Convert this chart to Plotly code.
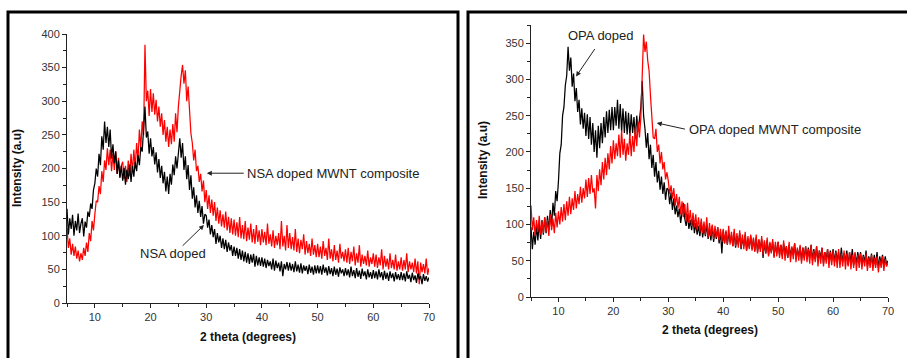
import plotly.graph_objects as go

# 2-theta grid (degrees), 0.25 step from 5 to 70
two_theta = [5 + 0.25 * i for i in range(261)]

# Left panel: NSA doped (black) and NSA doped MWNT composite (red)
nsa_doped = [
    140,102,126,110,131,100,122,108,133,104,118,126,99,121,112,136,128,148,140,168,
    178,200,188,222,205,248,228,270,238,262,232,258,215,236,208,225,192,212,186,204,
    182,201,176,198,184,206,180,204,188,210,196,220,205,232,225,262,292,246,255,222,
    245,218,232,206,224,194,214,186,204,178,195,166,188,162,192,176,206,190,218,200,
    222,245,216,238,198,218,184,205,168,190,155,172,142,160,134,152,128,144,118,132,
    130,112,124,102,116,98,110,88,104,90,100,82,96,80,94,76,90,78,86,70,
    84,70,82,66,80,64,78,62,76,60,74,58,72,60,73,54,70,56,68,55,
    68,54,66,52,64,55,62,50,66,48,63,52,60,47,62,40,58,50,61,48,
    60,48,58,46,62,47,57,45,59,44,56,48,55,43,57,45,54,42,56,44,
    56,44,55,42,57,45,53,41,55,43,52,40,54,42,51,39,53,44,50,40,
    52,41,50,38,54,40,49,37,52,39,48,36,51,40,47,35,50,38,46,36,
    49,37,47,35,50,38,46,34,48,36,45,33,47,37,44,32,46,35,43,34,
    46,34,44,32,47,36,42,31,45,34,41,30,44,35,40,28,43,33,40,32,38,
]
nsa_mwnt = [
    112,82,96,72,88,70,84,66,78,62,74,64,82,70,90,76,104,92,122,108,
    132,152,150,174,162,196,180,212,198,230,205,228,196,222,198,226,192,216,188,204,
    210,184,204,180,212,188,222,194,228,200,238,212,258,230,270,250,384,300,316,278,
    318,284,312,280,302,270,292,262,282,250,272,240,262,232,258,236,266,240,282,254,
    292,318,338,354,326,346,300,322,276,252,238,212,228,196,204,180,192,166,182,150,
    168,140,160,134,154,130,150,122,142,118,138,114,132,112,136,108,128,104,126,102,
    124,100,120,98,128,96,116,95,122,92,112,94,118,90,110,88,116,91,108,86,
    110,90,106,86,118,88,102,84,108,82,100,86,104,80,122,84,100,78,116,82,
    104,80,98,78,110,76,96,74,94,80,102,72,92,74,88,70,96,72,86,68,
    88,68,84,66,92,70,82,64,96,66,80,62,86,64,78,60,88,66,76,62,
    80,60,82,58,76,62,84,56,74,60,86,54,72,58,70,56,78,54,68,58,
    74,54,72,52,68,56,80,50,70,54,66,50,74,52,64,50,72,48,62,50,
    68,48,64,50,74,46,62,50,60,46,66,44,62,28,60,46,58,44,66,42,52,
]

# Right panel: OPA doped (black) and OPA doped MWNT composite (red)
opa_doped = [
    96,66,90,72,98,78,104,80,106,86,110,88,112,92,120,98,130,112,146,132,
    160,198,210,250,262,292,305,345,312,330,290,308,270,288,255,272,238,260,232,254,
    222,252,218,248,210,240,200,230,192,236,205,240,212,248,220,256,226,258,230,262,
    230,262,236,272,232,266,228,260,226,256,224,254,222,252,226,248,218,250,228,246,
    262,298,250,232,206,226,190,210,178,196,166,186,158,174,148,166,142,158,134,150,
    148,128,144,120,136,114,126,110,122,102,118,130,108,98,114,94,106,92,110,88,
    102,86,98,84,104,82,96,84,100,80,94,78,98,76,92,80,96,74,90,60,
    92,74,90,72,88,76,86,70,90,68,84,72,88,66,82,70,86,64,80,68,
    84,66,80,64,82,62,78,66,80,54,76,60,78,58,74,62,76,56,72,60,
    76,58,72,56,74,60,70,54,72,56,68,58,74,52,66,56,70,50,68,54,
    70,52,68,54,72,50,66,52,70,48,64,54,68,46,62,52,66,48,64,50,
    66,48,64,50,62,46,68,48,60,50,64,44,62,48,66,44,60,46,62,48,
    62,44,58,48,64,42,56,46,60,42,58,44,62,40,56,46,58,42,56,44,50,
]
opa_mwnt = [
    126,92,110,84,106,90,112,86,104,88,110,90,106,84,114,92,108,88,116,96,
    118,100,124,104,128,106,132,112,138,114,136,120,146,122,142,128,152,130,150,136,
    162,138,164,142,168,144,150,122,168,146,176,154,186,162,192,168,198,176,208,184,
    216,190,212,194,224,192,230,196,218,188,212,196,226,194,222,200,234,208,242,220,
    248,302,362,338,352,326,312,278,250,220,218,232,200,210,184,200,176,186,162,172,
    160,142,154,136,150,126,142,122,138,114,132,110,128,104,130,102,120,98,116,96,
    114,92,110,90,108,88,104,86,110,82,102,84,100,80,98,82,96,78,94,76,
    94,74,92,72,98,72,90,70,94,70,88,68,92,68,86,66,90,64,84,66,
    86,64,82,62,86,60,80,62,84,58,78,60,82,56,76,60,80,54,76,56,
    76,54,72,52,78,50,70,54,76,48,70,52,74,48,68,50,72,46,68,50,
    70,48,66,46,72,44,64,48,70,42,64,46,68,42,62,46,66,40,62,44,
    64,42,62,40,66,40,60,42,64,38,60,42,62,38,58,40,62,36,58,40,
    60,38,56,42,60,36,54,40,58,36,54,40,56,34,52,40,56,36,52,42,48,
]

x_ticks = [10, 20, 30, 40, 50, 60, 70]
x_minor_ticks = [5, 15, 25, 35, 45, 55, 65]
left_y_ticks = [0, 50, 100, 150, 200, 250, 300, 350, 400]
right_y_ticks = [0, 50, 100, 150, 200, 250, 300, 350]

FONT = "Liberation Sans, Arial, sans-serif"
W, H = 907, 358
LW = 1.25

def px(x):
    return x / W

def py(y):
    return (H - y) / H

fig = go.Figure()
fig.add_trace(go.Scatter(x=two_theta, y=nsa_mwnt, mode="lines", line=dict(color="#ff0000", width=LW), xaxis="x", yaxis="y", showlegend=False))
fig.add_trace(go.Scatter(x=two_theta, y=nsa_doped, mode="lines", line=dict(color="#000000", width=LW), xaxis="x", yaxis="y", showlegend=False))
fig.add_trace(go.Scatter(x=two_theta, y=opa_doped, mode="lines", line=dict(color="#000000", width=LW), xaxis="x2", yaxis="y2", showlegend=False))
fig.add_trace(go.Scatter(x=two_theta, y=opa_mwnt, mode="lines", line=dict(color="#ff0000", width=LW), xaxis="x2", yaxis="y2", showlegend=False))

axis_common = dict(showline=True, linecolor="#222", linewidth=1, ticks="outside", tickcolor="#222",
                   tickwidth=1, showgrid=False, zeroline=False, automargin=False,
                   tickfont=dict(family=FONT, size=11, color="#333"))
minor_x = dict(tickvals=x_minor_ticks, ticklen=3, tickcolor="#222", ticks="outside")
minor_y = dict(dtick=25, ticklen=3, tickcolor="#222", ticks="outside")

fig.update_layout(
    width=W, height=H, margin=dict(l=0, r=0, t=0, b=0, pad=0, autoexpand=False),
    paper_bgcolor="white", plot_bgcolor="white", showlegend=False,
    xaxis=dict(domain=[px(67), px(429)], range=[5, 70], tickvals=x_ticks, ticklen=4,
               minor=minor_x, anchor="y", **axis_common),
    yaxis=dict(domain=[py(303), py(34)], range=[0, 400], tickvals=left_y_ticks, ticklen=4,
               minor=minor_y, anchor="x", **axis_common),
    xaxis2=dict(domain=[px(531), px(888)], range=[5, 70], tickvals=x_ticks, ticklen=4,
                minor=minor_x, anchor="y2", **axis_common),
    yaxis2=dict(domain=[py(297), py(25)], range=[0, 375], tickvals=right_y_ticks, ticklen=4,
                minor=minor_y, anchor="x2", **axis_common),
)

# Panel frames
fig.add_shape(type="rect", xref="paper", yref="paper", x0=px(8), x1=px(458), y0=-0.1, y1=py(12),
              line=dict(color="black", width=3))
fig.add_shape(type="rect", xref="paper", yref="paper", x0=px(468), x1=1.1, y0=-0.1, y1=py(12),
              line=dict(color="black", width=3))

title_font = dict(family=FONT, size=12, color="#111")
centered = dict(xanchor="center", yanchor="middle", showarrow=False, xref="paper", yref="paper")
ann = [
    dict(text="<b>2 theta (degrees)</b>", x=px(248), y=py(337), font=title_font, **centered),
    dict(text="<b>Intensity (a.u)</b>", x=px(17), y=py(168), textangle=-90, font=title_font, **centered),
    dict(text="<b>2 theta (degrees)</b>", x=px(710), y=py(330), font=title_font, **centered),
    dict(text="<b>Intensity (a.u)</b>", x=px(483), y=py(160), textangle=-90, font=title_font, **centered),
]
label_font = dict(family=FONT, size=13, color="#222")
# Left panel labels
ann += [
    dict(text="NSA doped MWNT composite", xref="x", yref="y", x=37.0, y=193, xanchor="left", yanchor="middle", showarrow=False, font=label_font),
    dict(text="", xref="x", yref="y", x=30.1, y=193, ax=37.0, ay=193, axref="x", ayref="y",
         showarrow=True, arrowhead=2, arrowsize=1, arrowwidth=1, arrowcolor="#222", standoff=0),
    dict(text="NSA doped", xref="x", yref="y", x=24.0, y=74, xanchor="center", yanchor="middle", showarrow=False, font=label_font),
    dict(text="", xref="x", yref="y", x=29.6, y=116, ax=25.5, ay=83, axref="x", ayref="y",
         showarrow=True, arrowhead=2, arrowsize=1, arrowwidth=1, arrowcolor="#222", standoff=0),
]
# Right panel labels
ann += [
    dict(text="OPA doped", xref="x2", yref="y2", x=17.7, y=361, xanchor="center", yanchor="middle", showarrow=False, font=label_font),
    dict(text="", xref="x2", yref="y2", x=13.2, y=304, ax=16.8, ay=344, axref="x2", ayref="y2",
         showarrow=True, arrowhead=2, arrowsize=1, arrowwidth=1, arrowcolor="#222", standoff=0),
    dict(text="OPA doped MWNT composite", xref="x2", yref="y2", x=33.4, y=231, xanchor="left", yanchor="middle", showarrow=False, font=label_font),
    dict(text="", xref="x2", yref="y2", x=27.9, y=240, ax=33.3, ay=231, axref="x2", ayref="y2",
         showarrow=True, arrowhead=2, arrowsize=1, arrowwidth=1, arrowcolor="#222", standoff=0),
]
fig.update_layout(annotations=ann)

fig.write_html("out.html", config={"displayModeBar": False},
               post_script="document.body.style.margin='0';document.body.style.overflow='hidden';")
